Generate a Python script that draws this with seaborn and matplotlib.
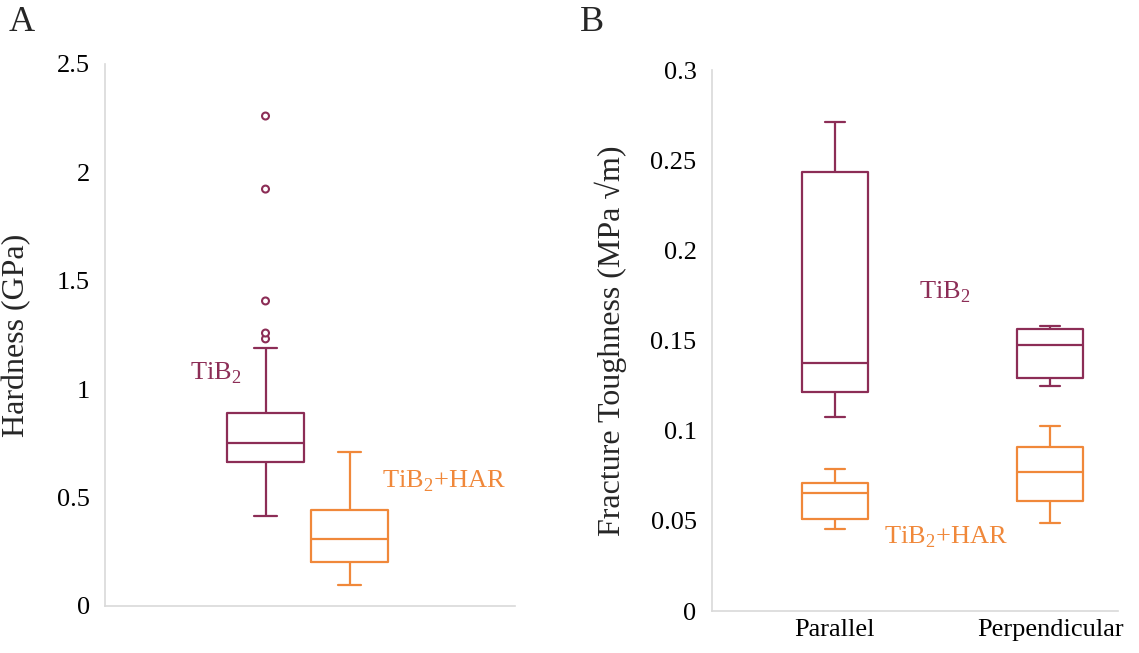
import pandas as pd
import seaborn as sns
import matplotlib.pyplot as plt

# five-number summaries (min, Q1, median, Q3, max)
hard_tib2 = [0.415, 0.663, 0.753, 0.892, 1.191]
hard_har = [0.096, 0.202, 0.310, 0.444, 0.712]
hard_outliers = [1.232, 1.259, 1.407, 1.923, 2.26]

par_tib2 = [0.1074, 0.1216, 0.1377, 0.2435, 0.2714]
par_har = [0.0456, 0.0510, 0.0656, 0.0708, 0.0786]
perp_tib2 = [0.1246, 0.1292, 0.1475, 0.1562, 0.1580]
perp_har = [0.0486, 0.0612, 0.0773, 0.0911, 0.1024]

materials = ["TiB2", "TiB2+HAR"]
orientations = ["Parallel", "Perpendicular"]
hard_ticks = [0, 0.5, 1, 1.5, 2, 2.5]
tough_ticks = [0, 0.05, 0.1, 0.15, 0.2, 0.25, 0.3]

maroon = "#8C2D56"
orange = "#F0883A"
palette = {"TiB2": maroon, "TiB2+HAR": orange}

sns.set_theme(style="white")
plt.rcParams['font.family'] = ['Liberation Serif', 'DejaVu Serif']
plt.rcParams['mathtext.fontset'] = 'custom'
plt.rcParams['mathtext.rm'] = 'Liberation Serif'

df_a = pd.DataFrame({
    "sample": [""] * 10,
    "material": ["TiB2"] * 5 + ["TiB2+HAR"] * 5,
    "hardness": hard_tib2 + hard_har,
})
df_out = pd.DataFrame({
    "sample": [""] * len(hard_outliers),
    "material": ["TiB2"] * len(hard_outliers),
    "hardness": hard_outliers,
})
df_b = pd.DataFrame({
    "orientation": ["Parallel"] * 10 + ["Perpendicular"] * 10,
    "material": (["TiB2"] * 5 + ["TiB2+HAR"] * 5) * 2,
    "toughness": par_tib2 + par_har + perp_tib2 + perp_har,
})

fig = plt.figure(figsize=(11.39, 6.53), dpi=100)
axA = fig.add_axes([0.0922, 0.072, 0.360, 0.830])
axB = fig.add_axes([0.625, 0.0643, 0.3566, 0.8285])

sns.boxplot(data=df_a, x="sample", y="hardness", hue="material",
            hue_order=materials, palette=palette, fill=False,
            whis=(0, 100), width=0.8, gap=0.083, linewidth=1.6,
            capwidths=0.11, legend=False, ax=axA)
sns.stripplot(data=df_out, x="sample", y="hardness", hue="material",
              hue_order=materials, palette={"TiB2": "white", "TiB2+HAR": "white"},
              edgecolor=maroon, linewidth=1.5, size=5, jitter=False,
              dodge=True, legend=False, ax=axA)

sns.boxplot(data=df_b, x="orientation", y="toughness", hue="material",
            order=orientations, hue_order=materials, palette=palette,
            fill=False, whis=(0, 100), width=0.31, dodge=False,
            linewidth=1.6, capwidths=0.093, legend=False, ax=axB)

axA.set_xlim(-0.964, 0.988)
axA.set_ylim(0, 2.5)
axA.set_yticks(hard_ticks)
axA.set_yticklabels([f"{t:g}" for t in hard_ticks])
axA.set_xticks([0])
axA.set_xticklabels([""])
axA.set_xlabel("")
axA.set_ylabel("Hardness (GPa)", fontsize=23)
axA.yaxis.set_label_coords(-0.18, 0.5)

axB.set_xlim(-0.572, 1.316)
axB.set_ylim(0, 0.3)
axB.set_yticks(tough_ticks)
axB.set_yticklabels([f"{t:g}" for t in tough_ticks])
axB.set_xlabel("")
axB.set_ylabel("Fracture Toughness (MPa \u221am)", fontsize=23)
axB.yaxis.set_label_coords(-0.209, 0.5)

for ax in (axA, axB):
    sns.despine(ax=ax)
    for side in ("left", "bottom"):
        ax.spines[side].set_color("#d9d9d9")
        ax.spines[side].set_linewidth(1.2)
    ax.tick_params(axis="both", length=0, labelsize=19, colors="black")
    ax.tick_params(axis="y", pad=11)
    ax.tick_params(axis="x", pad=6)

axA.text(-0.56, 1.075, r"TiB$_\mathregular{2}$", color=maroon, fontsize=19,
         ha="left", va="center")
axA.text(0.355, 0.577, r"TiB$_\mathregular{2}$+HAR", color=orange, fontsize=19,
         ha="left", va="center")
axB.text(0.39, 0.177, r"TiB$_\mathregular{2}$", color=maroon, fontsize=19,
         ha="left", va="center")
axB.text(0.226, 0.041, r"TiB$_\mathregular{2}$+HAR", color=orange, fontsize=19,
         ha="left", va="center")

fig.text(0.019, 0.966, "A", fontsize=26, ha="center", va="center")
fig.text(0.52, 0.966, "B", fontsize=26, ha="center", va="center")

fig.savefig("out.png", dpi=100)
